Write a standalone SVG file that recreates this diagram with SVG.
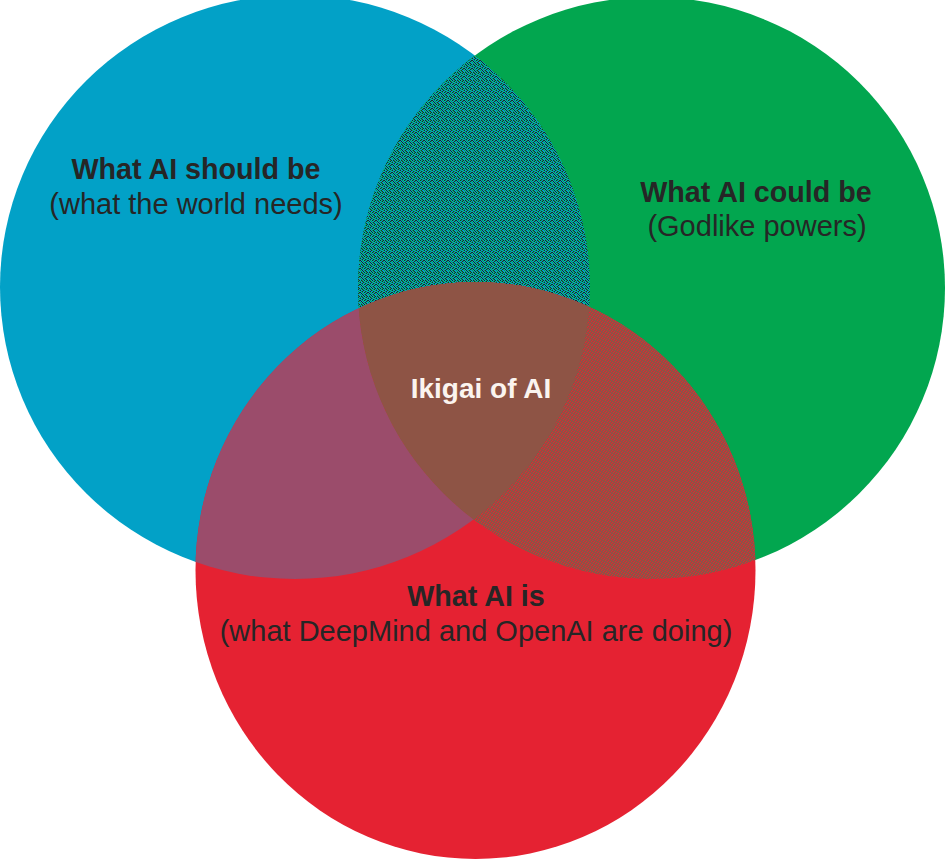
<svg xmlns="http://www.w3.org/2000/svg" width="945" height="861" viewBox="0 0 945 861">
<defs>
<style>
.t{font-family:"Liberation Sans",Arial,Helvetica,sans-serif;font-size:29px;fill:#262626;text-anchor:middle}
.b{font-weight:bold;font-size:28.7px}
.w{fill:#FBF4EF;font-weight:bold;font-size:28px}
</style>
<clipPath id="cB"><ellipse cx="295" cy="287" rx="295" ry="292"/></clipPath>
<clipPath id="cG"><ellipse cx="651.5" cy="288" rx="293.5" ry="291"/></clipPath>
<pattern id="pBG" patternUnits="userSpaceOnUse" x="0" y="0" width="8" height="8" shape-rendering="crispEdges">
<rect width="8" height="8" fill="#02A0C6"/>
<path fill="#1C2B2B" d="M1 0h1v1h-1zM4 0h1v1h-1zM7 0h1v1h-1zM2 1h1v1h-1zM6 1h1v1h-1zM0 2h1v1h-1zM3 2h1v1h-1zM2 3h1v1h-1zM5 3h1v1h-1zM0 4h1v1h-1zM4 4h1v1h-1zM7 4h1v1h-1zM1 5h1v1h-1zM6 5h1v1h-1zM2 6h1v1h-1zM5 6h1v1h-1zM3 7h1v1h-1zM6 7h1v1h-1z"/>
<path fill="#03A44F" d="M2 0h1v1h-1zM6 0h1v1h-1zM0 1h1v1h-1zM3 1h1v1h-1zM5 1h1v1h-1zM4 2h1v1h-1zM7 2h1v1h-1zM1 3h1v1h-1zM6 3h1v1h-1zM2 4h1v1h-1zM5 4h1v1h-1zM3 5h1v1h-1zM7 5h1v1h-1zM0 6h1v1h-1zM4 6h1v1h-1zM1 7h1v1h-1zM5 7h1v1h-1z"/>
</pattern>
<pattern id="pRG" patternUnits="userSpaceOnUse" x="0" y="0" width="8" height="8" shape-rendering="crispEdges">
<rect width="8" height="8" fill="#8E5445"/>
<path fill="#E52232" d="M0 0h1v1h-1zM5 0h1v1h-1zM2 1h1v1h-1zM7 1h1v1h-1zM4 2h1v1h-1zM1 2h1v1h-1zM6 3h1v1h-1zM3 3h1v1h-1zM0 4h1v1h-1zM5 4h1v1h-1zM2 5h1v1h-1zM7 5h1v1h-1zM4 6h1v1h-1zM1 6h1v1h-1zM6 7h1v1h-1zM3 7h1v1h-1z"/>
</pattern>
</defs>
<rect width="945" height="861" fill="#FFFFFF"/>
<g id="should-be">
<ellipse cx="295" cy="287" rx="295" ry="292" fill="#02A1C7"/>
</g>
<g id="could-be">
<ellipse cx="651.5" cy="288" rx="293.5" ry="291" fill="#02A64F"/>
</g>
<g id="is">
<ellipse cx="475.5" cy="570.5" rx="280" ry="288.5" fill="#E52232"/>
</g>
<g id="overlaps">
<ellipse cx="651.5" cy="288" rx="293.5" ry="291" fill="url(#pBG)" clip-path="url(#cB)"/>
<ellipse cx="475.5" cy="570.5" rx="280" ry="288.5" fill="#9B4C6B" clip-path="url(#cB)"/>
<ellipse cx="475.5" cy="570.5" rx="280" ry="288.5" fill="url(#pRG)" clip-path="url(#cG)"/>
<g clip-path="url(#cB)">
<ellipse cx="475.5" cy="570.5" rx="280" ry="288.5" fill="#8E5445" clip-path="url(#cG)"/>
</g>
</g>
<g id="labels">
<text class="t b" x="196" y="179">What AI should be</text>
<text class="t" x="196" y="214">(what the world needs)</text>
<text class="t b" x="756" y="202">What AI could be</text>
<text class="t" x="757" y="236">(Godlike powers)</text>
<text class="t w" x="481" y="398">Ikigai of AI</text>
<text class="t b" x="476" y="606">What AI is</text>
<text class="t" x="476" y="641">(what DeepMind and OpenAI are doing)</text>
</g>
</svg>
